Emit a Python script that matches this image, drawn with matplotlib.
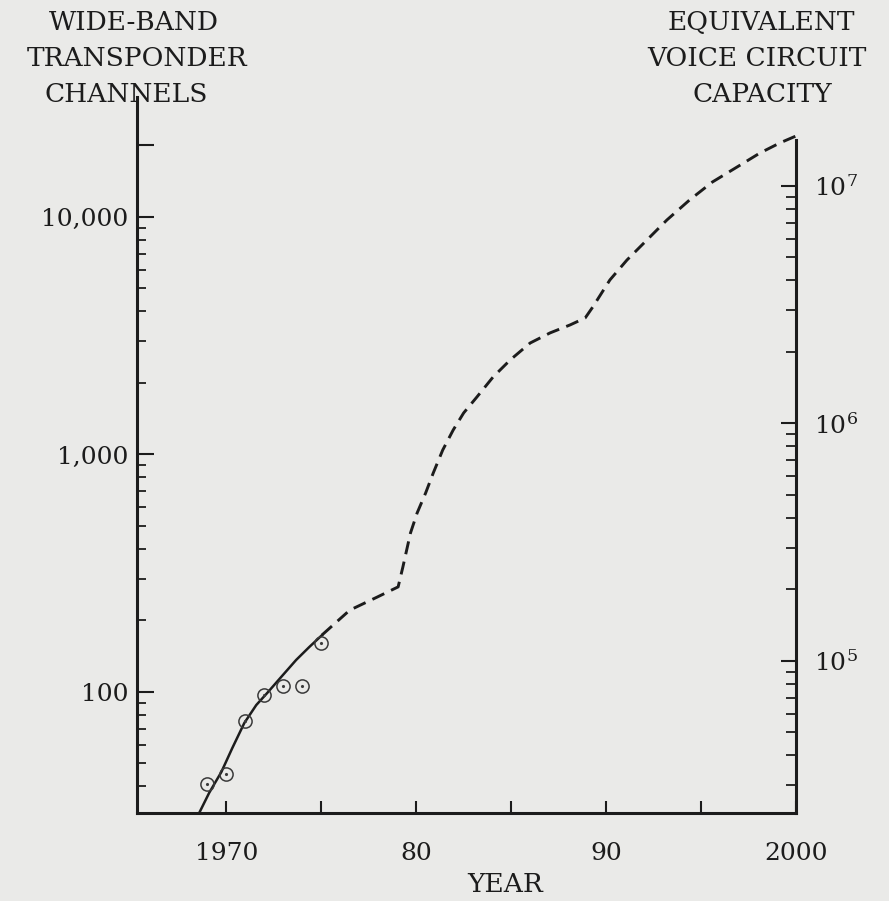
import matplotlib.pyplot as plt
from matplotlib.ticker import FixedLocator, NullFormatter

plt.rcParams['font.family'] = ['DejaVu Serif']
plt.rcParams['mathtext.fontset'] = 'dejavuserif'

# observed wide-band transponder channels (circles)
years_obs = [1969, 1970, 1971, 1972, 1973, 1974, 1975]
channels_obs = [41, 45, 75.5, 97, 106, 106, 161]

# fitted trend through the observations (solid)
years_fit = [1968.58, 1969.1, 1969.74, 1970.32, 1970.95, 1971.58, 1972.16,
             1972.89, 1973.68, 1974.37, 1975.05]
channels_fit = [31.0, 37.6, 46.0, 58.1, 74.0, 88.1, 99.1, 115.6, 136.4, 154.6, 173.8]

# projection (dashed)
years_proj = [1975.05, 1976.5, 1977.95, 1979.05, 1979.3, 1979.7, 1980.05, 1980.5,
              1980.9, 1981.4, 1981.95, 1982.5, 1983.2, 1984.05, 1984.95, 1986.0,
              1987.05, 1988.1, 1988.9, 1989.3, 1990.2, 1991.1, 1992.15, 1993.2,
              1994.4, 1995.6, 1996.9, 1998.1, 1999.15, 2000.1]
channels_proj = [174, 221, 251, 277, 336, 467, 567, 689,
                 836, 1045, 1268, 1496, 1747, 2120, 2500, 2946,
                 3250, 3510, 3757, 4180, 5430, 6590, 8000, 9710,
                 11800, 14040, 16240, 18590, 20500, 22100]

circuits_per_channel = 740

x_ticks = [1970, 1980, 1990, 2000]
x_labels = ['1970', '80', '90', '2000']
x_minor = [1975, 1985, 1995]
y_ticks = [100, 1000, 10000, 20000]
y_labels = ['100', '1,000', '10,000', '']
y2_ticks = [1e5, 1e6, 1e7]
y2_labels = [r'$10^5$', r'$10^6$', r'$10^7$']

bg = '#eaeae8'
ink = '#1c1c1c'
fs = 18

fig = plt.figure(figsize=(8.89, 9.01), dpi=100)
fig.patch.set_facecolor(bg)
ax = fig.add_axes([0.1541, 0.0977, 0.7413, 0.7946])
ax.set_facecolor(bg)

ylo, yhi = 30.94, 31990
ax.set_yscale('log')
ax.set_xlim(1965.3, 2000)
ax.set_ylim(ylo, yhi)

ax.plot(years_fit, channels_fit, color=ink, lw=1.8)
ax.plot(years_proj, channels_proj, color=ink, lw=2.1, linestyle=(0, (4.5, 2.6)),
        clip_on=False)
ax.plot(years_obs, channels_obs, 'o', ms=9.5, mfc='none', mec='#3a3a3a', mew=1.1)
ax.plot(years_obs, channels_obs, '.', ms=2.5, color='#3a3a3a')

# spines
for s in ['top', 'right']:
    ax.spines[s].set_visible(False)
for s in ['left', 'bottom']:
    ax.spines[s].set_linewidth(2.2)
    ax.spines[s].set_color(ink)

# x ticks
ax.xaxis.set_major_locator(FixedLocator(x_ticks))
ax.set_xticklabels(x_labels)
ax.xaxis.set_minor_locator(FixedLocator(x_minor))
ax.tick_params(axis='x', which='both', direction='in', length=9, width=1.5,
               color=ink, pad=21, labelsize=fs, labelcolor=ink)

# left y ticks
minor_left = [m * 10 ** k for k in range(1, 4) for m in range(2, 10)]
ax.yaxis.set_major_locator(FixedLocator(y_ticks))
ax.set_yticklabels(y_labels)
ax.yaxis.set_minor_locator(FixedLocator([v for v in minor_left if v > ylo]))
ax.yaxis.set_minor_formatter(NullFormatter())
ax.tick_params(axis='y', which='major', direction='in', length=12, width=1.5,
               color=ink, pad=6, labelsize=fs, labelcolor=ink)
ax.tick_params(axis='y', which='minor', direction='in', length=6.5, width=1.3,
               color=ink)

# right axis: equivalent voice circuits
ax2 = ax.twinx()
ax2.set_yscale('log')
ax2.set_ylim(ylo * circuits_per_channel, yhi * circuits_per_channel)
for s in ['top', 'left', 'bottom']:
    ax2.spines[s].set_visible(False)
ax2.spines['right'].set_linewidth(2.2)
ax2.spines['right'].set_color(ink)
ax2.spines['right'].set_bounds(ylo * circuits_per_channel, 1.56e7)
minor_right = [m * 10 ** k for k in range(4, 7) for m in range(2, 10)]
ax2.yaxis.set_major_locator(FixedLocator(y2_ticks))
ax2.set_yticklabels(y2_labels)
ax2.yaxis.set_minor_locator(FixedLocator(
    [v for v in minor_right if v > ylo * circuits_per_channel]))
ax2.yaxis.set_minor_formatter(NullFormatter())
ax2.tick_params(axis='y', which='major', direction='in', length=11, width=1.5,
                color=ink, pad=13, labelsize=fs, labelcolor=ink)
ax2.tick_params(axis='y', which='minor', direction='in', length=7, width=1.3,
                color=ink)

# titles
W, H = 889, 901
def label(x, y, s):
    fig.text(x / W, 1 - y / H, s, ha='center', va='center', fontsize=19, color=ink)

label(134, 22, 'WIDE-BAND')
label(137, 59, 'TRANSPONDER')
label(126, 94, 'CHANNELS')
label(761, 22, 'EQUIVALENT')
label(757, 59, 'VOICE CIRCUIT')
label(762, 94, 'CAPACITY')
label(505, 884, 'YEAR')

fig.savefig('out.png', dpi=100, facecolor=bg)
